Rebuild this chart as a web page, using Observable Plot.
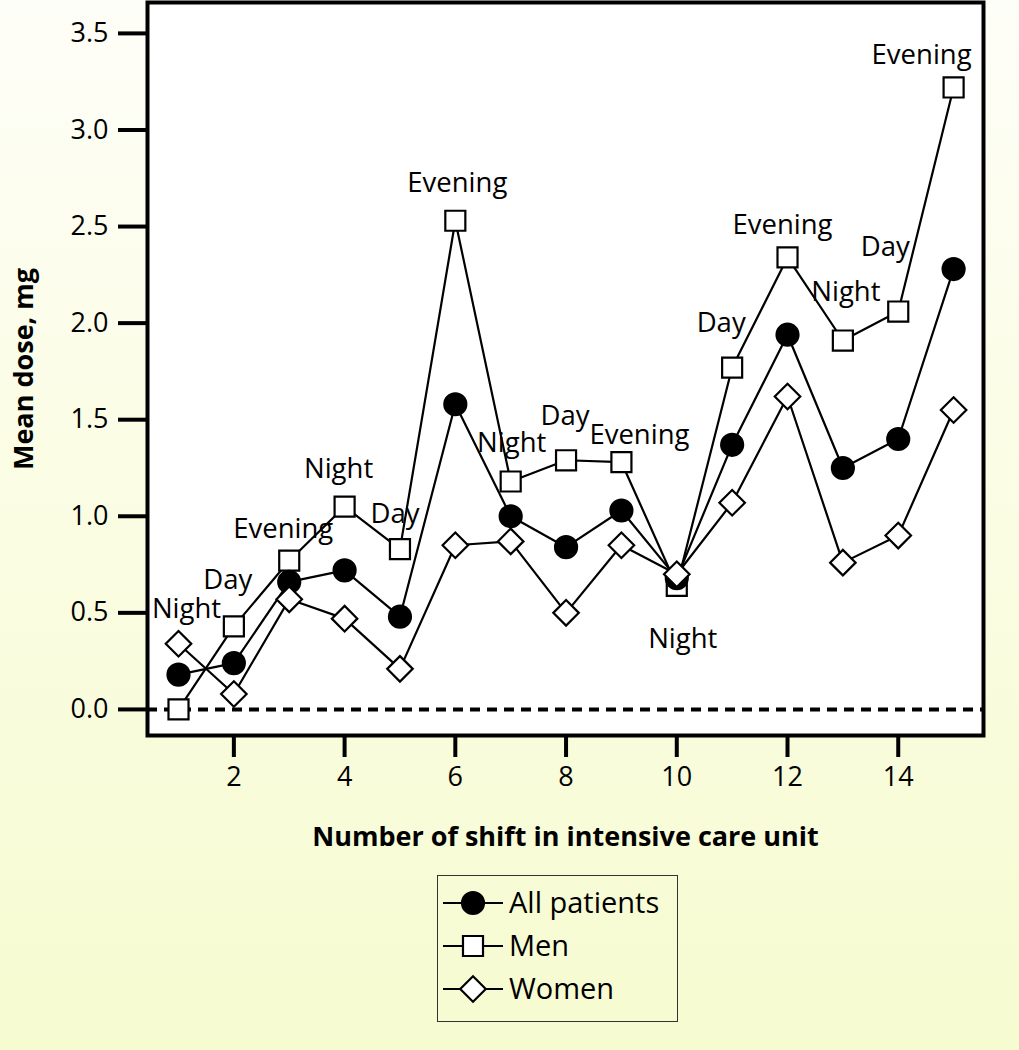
<!DOCTYPE html>
<html>
<head>
<meta charset="utf-8">
<script src="https://cdn.jsdelivr.net/npm/d3@7"></script>
<script src="https://cdn.jsdelivr.net/npm/@observablehq/plot@0.6"></script>
<style>
  html, body { margin: 0; padding: 0; }
  body {
    width: 1019px; height: 1050px; position: relative; overflow: hidden;
    background: linear-gradient(to bottom, #fefef8 0%, #fbfde6 40%, #f6fbd0 100%);
    font-family: "Open Sans", sans-serif;
  }
  #chart { position: absolute; left: 0; top: 0; }
  #chart svg { background: none !important; }
  #legend { position: absolute; left: 437px; top: 875px; width: 241px; height: 147px;
    border: 1.5px solid #333; box-sizing: border-box; background: none; }
</style>
</head>
<body>
<div id="chart"></div>
<div id="legend"></div>
<script>
// ---- data ----
const shifts = [1, 2, 3, 4, 5, 6, 7, 8, 9, 10, 11, 12, 13, 14, 15];
const allPatients = [0.18, 0.24, 0.66, 0.72, 0.48, 1.58, 1.00, 0.84, 1.03, 0.68, 1.37, 1.94, 1.25, 1.40, 2.28];
const men = [0.00, 0.43, 0.77, 1.05, 0.83, 2.53, 1.18, 1.29, 1.28, 0.64, 1.77, 2.34, 1.91, 2.06, 3.22];
const women = [0.34, 0.08, 0.57, 0.47, 0.21, 0.85, 0.87, 0.50, 0.85, 0.70, 1.07, 1.62, 0.76, 0.90, 1.55];
const shiftNames = ["Night", "Day", "Evening", "Night", "Day", "Evening", "Night", "Day", "Evening",
                    "Night", "Day", "Evening", "Night", "Day", "Evening"];
const yTicks = [0, 0.5, 1.0, 1.5, 2.0, 2.5, 3.0, 3.5];
const xTicks = [2, 4, 6, 8, 10, 12, 14];
const seriesNames = ["All patients", "Men", "Women"];

// label placement offsets (pixels) relative to the Men point
const labelOffsets = [
  [8, -100], [-6, -46], [-6, -32], [-6, -37], [-5, -35], [2, -38], [1, -38], [-1, -44],
  [18, -27], [6, 53], [-11, -44], [-5, -32], [3, -48], [-13, -64], [-32, -32]
];

const rows = (vals) => shifts.map((s, i) => ({ shift: s, value: vals[i] }));
const FONT = "Open Sans, sans-serif";

function series(vals, symbol, fill, r) {
  return [
    Plot.line(rows(vals), { x: "shift", y: "value", stroke: "black", strokeWidth: 2.2 }),
    Plot.dot(rows(vals), { x: "shift", y: "value", symbol, r, fill, stroke: "black", strokeWidth: 2.2 })
  ];
}

const labelMarks = shifts.map((s, i) =>
  Plot.text([{ shift: s, value: men[i], name: shiftNames[i] }], {
    x: "shift", y: "value", text: "name",
    dx: labelOffsets[i][0], dy: labelOffsets[i][1],
    fontSize: 27.5, fill: "black", textAnchor: "middle", lineAnchor: "middle"
  })
);

const chart = Plot.plot({
  width: 1019,
  height: 860,
  marginLeft: 147,
  marginRight: 36,
  marginTop: 2,
  marginBottom: 125,
  style: { fontFamily: FONT, background: "none", overflow: "visible" },
  x: { domain: [0.44, 15.54] },
  y: { domain: [-0.135, 3.66] },
  marks: [
    Plot.frame({ fill: "white", stroke: "none" }),
    Plot.ruleY([0], { stroke: "black", strokeWidth: 4, strokeDasharray: "10,7" }),
    ...series(men, "square", "white", 11.3),
    ...series(allPatients, "circle", "black", 11),
    ...series(women, "diamond2", "white", 11.5),
    ...labelMarks,
    Plot.frame({ stroke: "black", strokeWidth: 4 }),
    Plot.axisY({
      ticks: yTicks, tickFormat: d3.format(".1f"), tickSize: 29, tickPadding: 10,
      fontSize: 27, strokeWidth: 4, label: "Mean dose, mg", labelAnchor: "center",
      labelArrow: "none", labelOffset: 134
    }),
    Plot.axisX({
      ticks: xTicks, tickSize: 22, tickPadding: 9, fontSize: 27, strokeWidth: 4,
      label: "Number of shift in intensive care unit", labelAnchor: "center",
      labelArrow: "none", labelOffset: 110
    })
  ]
});
chart.querySelectorAll('g[aria-label="x-axis label"] text, g[aria-label="y-axis label"] text')
  .forEach(t => { t.setAttribute("font-size", 27); t.setAttribute("font-weight", "bold"); });
document.getElementById("chart").appendChild(chart);

// ---- legend ----
const lg = d3.select("#legend").append("svg").attr("width", 238).attr("height", 144)
  .style("font-family", FONT);
const symbols = [["circle", "black", 11], ["square", "white", 11.3], ["diamond2", "white", 11.5]];
const symMap = { circle: d3.symbolCircle, square: d3.symbolSquare, diamond2: d3.symbolDiamond2 };
seriesNames.forEach((name, i) => {
  const y = 27 + i * 43;
  const g = lg.append("g").attr("transform", `translate(0,${y})`);
  g.append("line").attr("x1", 5).attr("x2", 65).attr("y1", 0).attr("y2", 0)
    .attr("stroke", "black").attr("stroke-width", 2.2);
  const [s, f, r] = symbols[i];
  g.append("path").attr("transform", "translate(35,0)")
    .attr("d", d3.symbol(symMap[s], Math.PI * r * r)())
    .attr("fill", f).attr("stroke", "black").attr("stroke-width", 2.2);
  g.append("text").attr("x", 71).attr("y", 0).attr("dy", "0.36em")
    .attr("font-size", 29).text(name);
});
</script>
</body>
</html>
